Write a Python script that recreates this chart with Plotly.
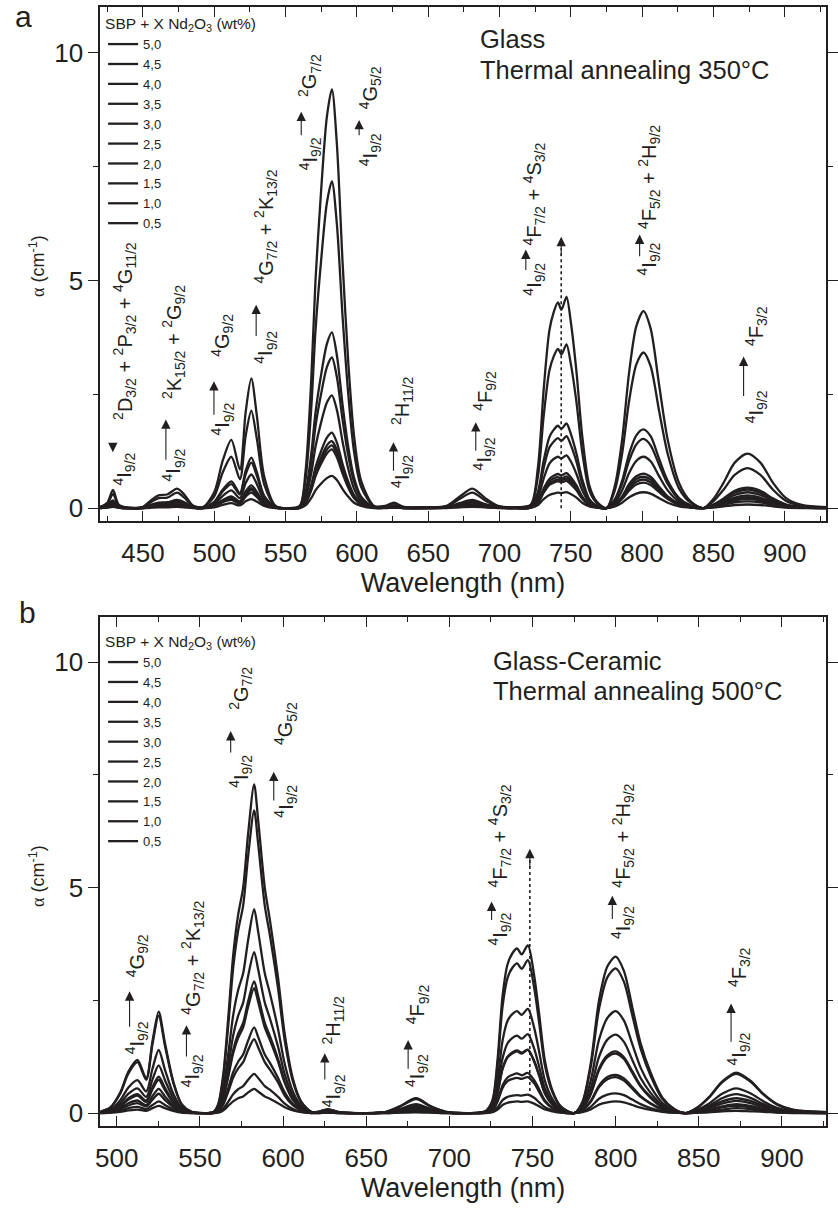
import plotly.graph_objects as go

W, H = 838, 1209
INK = "#231f20"
FONT = "Liberation Sans, Arial, sans-serif"

# ---------------- Panel (a): Glass, thermal annealing 350 C ----------------
wl_glass = [420, 425, 429, 433, 440, 450, 456, 461, 467, 474, 479, 485, 492,
            500, 506, 512, 518, 522, 526, 530, 535, 543, 552,
            560, 564, 568, 571, 575, 579, 582.5, 586, 590, 594, 598, 603, 612,
            620, 626, 633, 650,
            663, 672, 681, 690, 699, 712,
            722, 727, 731, 735, 738, 741, 743.5, 747, 750, 754, 758, 763, 768, 775,
            781, 786, 791, 796, 801, 806, 812, 818, 826, 834, 843,
            850, 857, 865, 874, 883, 892, 901, 912, 929]

glass_50 = [0.03, 0.12, 0.40, 0.08, 0.01, 0.03, 0.18, 0.28, 0.30, 0.43, 0.30, 0.06, 0.02,
            0.35, 1.05, 1.50, 0.85, 2.10, 2.85, 2.00, 0.70, 0.05, 0.00,
            0.05, 0.80, 2.80, 5.00, 7.00, 8.60, 9.20, 8.00, 5.40, 3.20, 1.60, 0.60, 0.05,
            0.05, 0.12, 0.03, 0.02,
            0.05, 0.25, 0.43, 0.22, 0.05, 0.02,
            0.08, 0.90, 2.60, 3.90, 4.30, 4.52, 4.36, 4.64, 4.10, 3.00, 1.60, 0.50, 0.15, 0.00,
            0.50, 1.50, 3.00, 4.00, 4.33, 3.95, 2.70, 1.50, 0.55, 0.15, 0.00,
            0.20, 0.55, 1.00, 1.20, 1.00, 0.55, 0.22, 0.07, 0.02]
glass_45 = [0.02, 0.09, 0.31, 0.06, 0.01, 0.02, 0.14, 0.22, 0.23, 0.34, 0.23, 0.05, 0.02,
            0.26, 0.79, 1.13, 0.64, 1.58, 2.14, 1.50, 0.53, 0.04, 0.00,
            0.04, 0.62, 2.18, 3.90, 5.46, 6.71, 7.18, 6.24, 4.21, 2.50, 1.25, 0.47, 0.04,
            0.04, 0.10, 0.02, 0.02,
            0.04, 0.20, 0.34, 0.17, 0.04, 0.02,
            0.06, 0.70, 2.02, 3.02, 3.33, 3.50, 3.38, 3.60, 3.18, 2.33, 1.24, 0.39, 0.12, 0.00,
            0.40, 1.19, 2.37, 3.16, 3.42, 3.12, 2.13, 1.19, 0.43, 0.12, 0.00,
            0.15, 0.40, 0.73, 0.88, 0.73, 0.40, 0.16, 0.05, 0.01]
glass_40 = [0.01, 0.05, 0.17, 0.03, 0.00, 0.01, 0.08, 0.12, 0.13, 0.18, 0.13, 0.03, 0.01,
            0.14, 0.41, 0.59, 0.33, 0.82, 1.11, 0.78, 0.27, 0.02, 0.00,
            0.02, 0.34, 1.18, 2.10, 2.94, 3.61, 3.86, 3.36, 2.27, 1.34, 0.67, 0.25, 0.02,
            0.02, 0.05, 0.01, 0.01,
            0.02, 0.11, 0.18, 0.09, 0.02, 0.01,
            0.03, 0.36, 1.04, 1.56, 1.72, 1.81, 1.74, 1.86, 1.64, 1.20, 0.64, 0.20, 0.06, 0.00,
            0.20, 0.60, 1.20, 1.60, 1.73, 1.58, 1.08, 0.60, 0.22, 0.06, 0.00,
            0.08, 0.21, 0.38, 0.45, 0.38, 0.21, 0.08, 0.03, 0.01]
glass_35 = [0.01, 0.04, 0.14, 0.03, 0.00, 0.01, 0.06, 0.10, 0.11, 0.15, 0.11, 0.02, 0.01,
            0.12, 0.37, 0.53, 0.30, 0.74, 1.00, 0.70, 0.25, 0.02, 0.00,
            0.02, 0.29, 1.01, 1.80, 2.52, 3.10, 3.31, 2.88, 1.94, 1.15, 0.58, 0.22, 0.02,
            0.02, 0.04, 0.01, 0.01,
            0.02, 0.09, 0.15, 0.08, 0.02, 0.01,
            0.03, 0.31, 0.88, 1.33, 1.46, 1.54, 1.48, 1.58, 1.39, 1.02, 0.54, 0.17, 0.05, 0.00,
            0.18, 0.53, 1.05, 1.40, 1.52, 1.38, 0.95, 0.53, 0.19, 0.05, 0.00,
            0.07, 0.19, 0.34, 0.41, 0.34, 0.19, 0.07, 0.02, 0.01]
glass_30 = [0.01, 0.03, 0.11, 0.02, 0.00, 0.01, 0.05, 0.08, 0.08, 0.12, 0.08, 0.02, 0.01,
            0.09, 0.27, 0.39, 0.22, 0.55, 0.74, 0.52, 0.18, 0.01, 0.00,
            0.01, 0.22, 0.76, 1.35, 1.89, 2.32, 2.48, 2.16, 1.46, 0.86, 0.43, 0.16, 0.01,
            0.01, 0.03, 0.01, 0.01,
            0.01, 0.07, 0.12, 0.06, 0.01, 0.01,
            0.02, 0.23, 0.65, 0.98, 1.08, 1.13, 1.09, 1.16, 1.03, 0.75, 0.40, 0.13, 0.04, 0.00,
            0.13, 0.39, 0.78, 1.04, 1.13, 1.03, 0.70, 0.39, 0.14, 0.04, 0.00,
            0.06, 0.16, 0.29, 0.35, 0.29, 0.16, 0.06, 0.02, 0.01]
glass_25 = [0.01, 0.02, 0.07, 0.01, 0.00, 0.01, 0.03, 0.05, 0.05, 0.08, 0.05, 0.01, 0.00,
            0.06, 0.18, 0.26, 0.15, 0.37, 0.50, 0.35, 0.12, 0.01, 0.00,
            0.01, 0.14, 0.50, 0.90, 1.26, 1.55, 1.66, 1.44, 0.97, 0.58, 0.29, 0.11, 0.01,
            0.01, 0.02, 0.01, 0.00,
            0.01, 0.05, 0.08, 0.04, 0.01, 0.00,
            0.01, 0.15, 0.43, 0.64, 0.71, 0.75, 0.72, 0.77, 0.68, 0.50, 0.26, 0.08, 0.02, 0.00,
            0.09, 0.26, 0.53, 0.70, 0.76, 0.69, 0.47, 0.26, 0.10, 0.03, 0.00,
            0.05, 0.13, 0.23, 0.28, 0.23, 0.13, 0.05, 0.02, 0.00]
glass_20 = [0.00, 0.02, 0.06, 0.01, 0.00, 0.00, 0.03, 0.04, 0.05, 0.07, 0.05, 0.01, 0.00,
            0.05, 0.16, 0.23, 0.13, 0.33, 0.44, 0.31, 0.11, 0.01, 0.00,
            0.01, 0.13, 0.45, 0.80, 1.12, 1.38, 1.47, 1.28, 0.86, 0.51, 0.26, 0.10, 0.01,
            0.01, 0.02, 0.00, 0.00,
            0.01, 0.04, 0.07, 0.04, 0.01, 0.00,
            0.01, 0.14, 0.39, 0.59, 0.65, 0.68, 0.65, 0.70, 0.62, 0.45, 0.24, 0.08, 0.02, 0.00,
            0.08, 0.24, 0.48, 0.64, 0.69, 0.63, 0.43, 0.24, 0.09, 0.02, 0.00,
            0.04, 0.11, 0.20, 0.24, 0.20, 0.11, 0.04, 0.01, 0.00]
glass_15 = [0.00, 0.02, 0.06, 0.01, 0.00, 0.00, 0.03, 0.04, 0.05, 0.06, 0.05, 0.01, 0.00,
            0.05, 0.15, 0.21, 0.12, 0.29, 0.40, 0.28, 0.10, 0.01, 0.00,
            0.01, 0.12, 0.42, 0.75, 1.05, 1.29, 1.38, 1.20, 0.81, 0.48, 0.24, 0.09, 0.01,
            0.01, 0.02, 0.00, 0.00,
            0.01, 0.04, 0.06, 0.03, 0.01, 0.00,
            0.01, 0.13, 0.36, 0.55, 0.60, 0.63, 0.61, 0.65, 0.57, 0.42, 0.22, 0.07, 0.02, 0.00,
            0.07, 0.22, 0.44, 0.58, 0.63, 0.57, 0.39, 0.22, 0.08, 0.02, 0.00,
            0.03, 0.09, 0.17, 0.20, 0.17, 0.09, 0.04, 0.01, 0.00]
glass_10 = [0.00, 0.02, 0.06, 0.01, 0.00, 0.00, 0.03, 0.04, 0.04, 0.06, 0.04, 0.01, 0.00,
            0.04, 0.13, 0.18, 0.10, 0.25, 0.34, 0.24, 0.08, 0.01, 0.00,
            0.01, 0.11, 0.39, 0.70, 0.98, 1.20, 1.29, 1.12, 0.76, 0.45, 0.22, 0.08, 0.01,
            0.01, 0.02, 0.00, 0.00,
            0.01, 0.04, 0.06, 0.03, 0.01, 0.00,
            0.01, 0.12, 0.34, 0.51, 0.56, 0.59, 0.57, 0.60, 0.53, 0.39, 0.21, 0.07, 0.02, 0.00,
            0.07, 0.20, 0.39, 0.52, 0.56, 0.51, 0.35, 0.20, 0.07, 0.02, 0.00,
            0.03, 0.07, 0.13, 0.15, 0.13, 0.07, 0.03, 0.01, 0.00]
glass_05 = [0.00, 0.01, 0.03, 0.01, 0.00, 0.00, 0.01, 0.02, 0.02, 0.03, 0.02, 0.00, 0.00,
            0.02, 0.07, 0.11, 0.06, 0.15, 0.20, 0.14, 0.05, 0.00, 0.00,
            0.00, 0.06, 0.22, 0.39, 0.54, 0.66, 0.71, 0.62, 0.42, 0.25, 0.12, 0.05, 0.00,
            0.00, 0.01, 0.00, 0.00,
            0.00, 0.02, 0.03, 0.02, 0.00, 0.00,
            0.01, 0.07, 0.20, 0.29, 0.32, 0.34, 0.33, 0.35, 0.31, 0.23, 0.12, 0.04, 0.01, 0.00,
            0.04, 0.12, 0.24, 0.32, 0.35, 0.32, 0.22, 0.12, 0.04, 0.01, 0.00,
            0.01, 0.04, 0.07, 0.08, 0.07, 0.04, 0.01, 0.00, 0.00]

# ---------------- Panel (b): Glass-ceramic, thermal annealing 500 C ----------------
wl_gc = [490, 496, 502, 507, 512.4, 517.7, 521.5, 525.2, 529, 534, 539, 545, 553,
         558, 561, 564, 567, 570, 573, 576, 579, 582.6, 585, 589, 592, 597, 601, 606, 611, 617,
         621, 627, 634, 650,
         662, 670, 680, 689, 698, 712,
         722, 726, 729, 732, 735, 738, 740.7, 743.5, 747.2, 751, 754, 757.5, 762, 767, 775,
         780, 785, 790, 795, 800, 805, 810, 815, 821, 828, 835, 842,
         849, 856, 864, 872.5, 881, 889, 897, 907, 927]

gc_50 = [0.03, 0.12, 0.45, 0.92, 1.18, 0.77, 1.60, 2.25, 1.55, 0.70, 0.20, 0.03, 0.00,
         0.02, 0.20, 0.85, 2.10, 3.50, 4.40, 5.00, 6.20, 7.29, 6.50, 5.00, 4.30, 3.00, 1.75, 0.75, 0.25, 0.03,
         0.03, 0.09, 0.02, 0.00,
         0.03, 0.15, 0.33, 0.15, 0.03, 0.00,
         0.05, 0.30, 1.20, 2.60, 3.30, 3.55, 3.65, 3.52, 3.72, 3.05, 2.20, 1.15, 0.50, 0.15, 0.00,
         0.25, 1.10, 2.50, 3.25, 3.47, 3.15, 2.35, 1.55, 0.90, 0.35, 0.10, 0.00,
         0.12, 0.35, 0.70, 0.90, 0.72, 0.42, 0.20, 0.07, 0.02]
gc_45 = [0.03, 0.12, 0.43, 0.88, 1.13, 0.74, 1.54, 2.16, 1.49, 0.67, 0.19, 0.03, 0.00,
         0.02, 0.18, 0.78, 1.93, 3.22, 4.05, 4.60, 5.70, 6.71, 5.98, 4.60, 3.96, 2.76, 1.61, 0.69, 0.23, 0.03,
         0.03, 0.08, 0.02, 0.00,
         0.03, 0.14, 0.31, 0.14, 0.03, 0.00,
         0.05, 0.27, 1.09, 2.37, 3.00, 3.23, 3.32, 3.20, 3.39, 2.78, 2.00, 1.05, 0.46, 0.14, 0.00,
         0.23, 1.02, 2.31, 3.01, 3.21, 2.91, 2.17, 1.43, 0.83, 0.32, 0.09, 0.00,
         0.12, 0.34, 0.68, 0.87, 0.70, 0.41, 0.19, 0.07, 0.02]
gc_40 = [0.02, 0.07, 0.28, 0.57, 0.73, 0.48, 0.99, 1.40, 0.96, 0.43, 0.12, 0.02, 0.00,
         0.01, 0.12, 0.53, 1.30, 2.17, 2.73, 3.10, 3.84, 4.52, 4.03, 3.10, 2.67, 1.86, 1.09, 0.47, 0.16, 0.02,
         0.02, 0.06, 0.01, 0.00,
         0.02, 0.09, 0.20, 0.09, 0.02, 0.00,
         0.03, 0.19, 0.74, 1.61, 2.05, 2.20, 2.26, 2.18, 2.31, 1.89, 1.36, 0.71, 0.31, 0.09, 0.00,
         0.16, 0.72, 1.63, 2.11, 2.26, 2.05, 1.53, 1.01, 0.59, 0.23, 0.07, 0.00,
         0.07, 0.21, 0.43, 0.55, 0.44, 0.26, 0.12, 0.04, 0.01]
gc_35 = [0.01, 0.06, 0.21, 0.43, 0.55, 0.36, 0.75, 1.06, 0.73, 0.33, 0.09, 0.01, 0.00,
         0.01, 0.10, 0.42, 1.03, 1.72, 2.16, 2.45, 3.04, 3.57, 3.19, 2.45, 2.11, 1.47, 0.86, 0.37, 0.12, 0.01,
         0.01, 0.04, 0.01, 0.00,
         0.01, 0.07, 0.16, 0.07, 0.01, 0.00,
         0.02, 0.14, 0.56, 1.22, 1.55, 1.67, 1.72, 1.65, 1.75, 1.43, 1.03, 0.54, 0.24, 0.07, 0.00,
         0.13, 0.55, 1.25, 1.63, 1.74, 1.58, 1.18, 0.78, 0.45, 0.18, 0.05, 0.00,
         0.06, 0.16, 0.33, 0.42, 0.34, 0.20, 0.09, 0.03, 0.01]
gc_30 = [0.01, 0.04, 0.16, 0.33, 0.42, 0.28, 0.58, 0.81, 0.56, 0.25, 0.07, 0.01, 0.00,
         0.01, 0.08, 0.34, 0.84, 1.40, 1.76, 2.00, 2.48, 2.92, 2.60, 2.00, 1.72, 1.20, 0.70, 0.30, 0.10, 0.01,
         0.01, 0.04, 0.01, 0.00,
         0.01, 0.06, 0.13, 0.06, 0.01, 0.00,
         0.02, 0.11, 0.46, 0.99, 1.25, 1.35, 1.39, 1.34, 1.41, 1.16, 0.84, 0.44, 0.19, 0.06, 0.00,
         0.10, 0.43, 0.99, 1.28, 1.37, 1.24, 0.93, 0.61, 0.36, 0.14, 0.04, 0.00,
         0.04, 0.13, 0.26, 0.33, 0.27, 0.16, 0.07, 0.03, 0.01]
gc_25 = [0.01, 0.04, 0.15, 0.30, 0.39, 0.25, 0.53, 0.74, 0.51, 0.23, 0.07, 0.01, 0.00,
         0.01, 0.08, 0.32, 0.80, 1.33, 1.67, 1.90, 2.36, 2.77, 2.47, 1.90, 1.63, 1.14, 0.67, 0.29, 0.10, 0.01,
         0.01, 0.03, 0.01, 0.00,
         0.01, 0.06, 0.12, 0.06, 0.01, 0.00,
         0.02, 0.11, 0.45, 0.98, 1.24, 1.33, 1.37, 1.32, 1.40, 1.14, 0.83, 0.43, 0.19, 0.06, 0.00,
         0.10, 0.42, 0.95, 1.24, 1.32, 1.20, 0.89, 0.59, 0.34, 0.13, 0.04, 0.00,
         0.04, 0.11, 0.21, 0.27, 0.22, 0.13, 0.06, 0.02, 0.01]
gc_20 = [0.01, 0.03, 0.11, 0.22, 0.28, 0.18, 0.38, 0.54, 0.37, 0.17, 0.05, 0.01, 0.00,
         0.01, 0.05, 0.22, 0.55, 0.91, 1.14, 1.30, 1.61, 1.90, 1.69, 1.30, 1.12, 0.78, 0.46, 0.20, 0.07, 0.01,
         0.01, 0.02, 0.01, 0.00,
         0.01, 0.04, 0.08, 0.04, 0.01, 0.00,
         0.01, 0.07, 0.29, 0.62, 0.79, 0.85, 0.88, 0.84, 0.89, 0.73, 0.53, 0.28, 0.12, 0.04, 0.00,
         0.06, 0.27, 0.61, 0.80, 0.85, 0.77, 0.58, 0.38, 0.22, 0.09, 0.02, 0.00,
         0.03, 0.08, 0.15, 0.20, 0.16, 0.09, 0.04, 0.02, 0.00]
gc_15 = [0.01, 0.02, 0.09, 0.17, 0.22, 0.15, 0.30, 0.43, 0.29, 0.13, 0.04, 0.01, 0.00,
         0.00, 0.05, 0.19, 0.47, 0.79, 0.99, 1.13, 1.40, 1.64, 1.46, 1.13, 0.97, 0.68, 0.39, 0.17, 0.06, 0.01,
         0.01, 0.02, 0.00, 0.00,
         0.01, 0.03, 0.07, 0.03, 0.01, 0.00,
         0.01, 0.06, 0.26, 0.56, 0.71, 0.76, 0.78, 0.76, 0.80, 0.66, 0.47, 0.25, 0.11, 0.03, 0.00,
         0.06, 0.25, 0.58, 0.75, 0.80, 0.72, 0.54, 0.36, 0.21, 0.08, 0.02, 0.00,
         0.02, 0.06, 0.13, 0.16, 0.13, 0.08, 0.04, 0.01, 0.00]
gc_10 = [0.00, 0.01, 0.05, 0.11, 0.14, 0.09, 0.18, 0.26, 0.18, 0.08, 0.02, 0.00, 0.00,
         0.00, 0.02, 0.10, 0.25, 0.42, 0.53, 0.60, 0.74, 0.87, 0.78, 0.60, 0.52, 0.36, 0.21, 0.09, 0.03, 0.00,
         0.00, 0.01, 0.00, 0.00,
         0.00, 0.02, 0.04, 0.02, 0.00, 0.00,
         0.01, 0.03, 0.13, 0.29, 0.36, 0.39, 0.40, 0.39, 0.41, 0.34, 0.24, 0.13, 0.06, 0.02, 0.00,
         0.03, 0.14, 0.32, 0.41, 0.44, 0.40, 0.30, 0.20, 0.11, 0.04, 0.01, 0.00,
         0.01, 0.04, 0.08, 0.11, 0.09, 0.05, 0.02, 0.01, 0.00]
gc_05 = [0.00, 0.01, 0.03, 0.06, 0.08, 0.05, 0.11, 0.16, 0.11, 0.05, 0.01, 0.00, 0.00,
         0.00, 0.01, 0.06, 0.16, 0.26, 0.33, 0.37, 0.46, 0.54, 0.48, 0.37, 0.32, 0.22, 0.13, 0.06, 0.02, 0.00,
         0.00, 0.01, 0.00, 0.00,
         0.00, 0.01, 0.02, 0.01, 0.00, 0.00,
         0.00, 0.02, 0.08, 0.18, 0.23, 0.25, 0.26, 0.25, 0.26, 0.21, 0.15, 0.08, 0.04, 0.01, 0.00,
         0.02, 0.08, 0.19, 0.24, 0.26, 0.24, 0.18, 0.12, 0.07, 0.03, 0.01, 0.00,
         0.01, 0.02, 0.04, 0.05, 0.04, 0.03, 0.01, 0.00, 0.00]

conc_labels = ["5,0", "4,5", "4,0", "3,5", "3,0", "2,5", "2,0", "1,5", "1,0", "0,5"]
glass_series = [glass_50, glass_45, glass_40, glass_35, glass_30,
                glass_25, glass_20, glass_15, glass_10, glass_05]
gc_series = [gc_50, gc_45, gc_40, gc_35, gc_30, gc_25, gc_20, gc_15, gc_10, gc_05]

for s in glass_series:
    assert len(s) == len(wl_glass), len(s)
for s in gc_series:
    assert len(s) == len(wl_gc), len(s)

fig = go.Figure()
line_style = dict(color=INK, width=2.3, shape="spline", smoothing=0.8)
for name, ys in zip(conc_labels, glass_series):
    fig.add_trace(go.Scatter(x=wl_glass, y=ys, mode="lines", name=name, line=line_style,
                             xaxis="x", yaxis="y", legend="legend", hoverinfo="skip"))
for name, ys in zip(conc_labels, gc_series):
    fig.add_trace(go.Scatter(x=wl_gc, y=ys, mode="lines", name=name, line=line_style,
                             xaxis="x2", yaxis="y2", legend="legend2", hoverinfo="skip"))

# ---------------- Axes ----------------
def xaxis(rng, anchor):
    return dict(domain=[97 / W, 837 / W], range=rng, anchor=anchor,
                tick0=0, dtick=50, ticks="inside", ticklen=10, tickwidth=1.4, tickcolor=INK,
                minor=dict(dtick=25, ticks="inside", ticklen=5, tickwidth=1.4, tickcolor=INK),
                showline=True, linewidth=1.6, linecolor=INK, mirror="ticks",
                showgrid=False, zeroline=False,
                tickfont=dict(size=26, color=INK, family=FONT), ticklabelstandoff=8,
                title=dict(text="Wavelength (nm)", font=dict(size=27, color=INK, family=FONT),
                           standoff=5))

def yaxis(dom, rng, anchor):
    return dict(domain=dom, range=rng, anchor=anchor,
                tick0=0, dtick=5, ticks="outside", ticklen=10, tickwidth=1.4, tickcolor=INK,
                minor=dict(dtick=2.5, ticks="outside", ticklen=5, tickwidth=1.4, tickcolor=INK),
                showline=True, linewidth=1.6, linecolor=INK, mirror="ticks",
                showgrid=False, zeroline=False,
                tickfont=dict(size=26, color=INK, family=FONT))

# ---------------- Transition labels ----------------
LOW = "<sup>4</sup>I<sub>9/2</sub>"
# (x column centre nm, lower-text bottom, upper text, upper-text bottom, arrow x, arrow tail, arrow head)
labels_glass = [
    (437.2, 0.48, "<sup>2</sup>D<sub>3/2</sub> + <sup>2</sup>P<sub>3/2</sub> + <sup>4</sup>G<sub>11/2</sub>", 1.91, 428.9, 1.45, 1.23),
    (471.6, 0.57, "<sup>2</sup>K<sub>15/2</sub> + <sup>2</sup>G<sub>9/2</sub>", 2.37, 466.1, 1.03, 1.95),
    (506.0, 1.58, "<sup>4</sup>G<sub>9/2</sub>", 3.31, 499.8, 2.02, 2.79),
    (536.2, 3.16, "<sup>4</sup>G<sub>7/2</sub> + <sup>2</sup>K<sub>13/2</sub>", 4.91, 529.4, 3.75, 4.47),
    (567.2, 7.39, "<sup>2</sup>G<sub>7/2</sub>", 9.0, 561.0, 8.16, 8.71),
    (609.2, 7.50, "<sup>4</sup>G<sub>5/2</sub>", 8.75, 601.6, 8.16, 8.53),
    (631.9, 0.42, "<sup>2</sup>H<sub>11/2</sub>", 1.80, 625.7, 0.79, 1.45),
    (689.6, 0.81, "<sup>4</sup>F<sub>9/2</sub>", 2.11, 683.4, 1.23, 1.89),
    (724.7, 4.65, "<sup>4</sup>F<sub>7/2</sub> + <sup>4</sup>S<sub>3/2</sub>", 5.75, 718.5, 5.20, 5.68),
    (805.2, 5.09, "<sup>4</sup>F<sub>5/2</sub> + <sup>2</sup>H<sub>9/2</sub>", 6.12, 798.3, 5.50, 6.01),
    (880.2, 1.84, "<sup>4</sup>F<sub>3/2</sub>", 3.55, 871.2, 2.43, 3.33),
]
labels_gc = [
    (574.4, 7.19, "<sup>2</sup>G<sub>7/2</sub>", 8.92, 568.5, 7.96, 8.47),
    (601.5, 6.53, "<sup>4</sup>G<sub>5/2</sub>", 8.14, 594.4, 6.90, 7.57),
    (512.4, 1.28, "<sup>4</sup>G<sub>9/2</sub>", 2.99, 507.7, 1.88, 2.70),
    (545.5, 0.55, "<sup>4</sup>G<sub>7/2</sub> + <sup>2</sup>K<sub>13/2</sub>", 2.17, 541.9, 1.22, 1.95),
    (630.4, 0.11, "<sup>2</sup>H<sub>11/2</sub>", 1.50, 625.1, 0.71, 1.33),
    (680.6, 0.55, "<sup>4</sup>F<sub>9/2</sub>", 1.95, 675.2, 0.95, 1.62),
    (730.1, 3.69, "<sup>4</sup>F<sub>7/2</sub> + <sup>4</sup>S<sub>3/2</sub>", 4.98, 725.4, 4.25, 4.69),
    (804.5, 3.83, "<sup>4</sup>F<sub>5/2</sub> + <sup>2</sup>H<sub>9/2</sub>", 4.98, 798.0, 4.27, 4.82),
    (874.1, 1.04, "<sup>4</sup>F<sub>3/2</sub>", 2.77, 869.4, 1.55, 2.43),
]
# dotted marker lines: (x nm, bottom, top)
dotted_glass = (743.3, 0.0, 5.96)
dotted_gc = (748.4, 0.49, 5.86)

annotations = []
shapes = []
LABEL_FONT = dict(size=20, color=INK, family=FONT)

def add_labels(items, xr, yr):
    for xc, ylow, up, yup, xa, ytail, yhead in items:
        annotations.append(dict(xref=xr, yref=yr, x=xc, y=ylow, text=LOW, textangle=-90,
                                xanchor="center", yanchor="bottom", showarrow=False,
                                font=LABEL_FONT, borderpad=0))
        annotations.append(dict(xref=xr, yref=yr, x=xc, y=yup, text=up, textangle=-90,
                                xanchor="center", yanchor="bottom", showarrow=False,
                                font=LABEL_FONT, borderpad=0))
        annotations.append(dict(xref=xr, yref=yr, x=xa, y=yhead, axref=xr, ayref=yr,
                                ax=xa, ay=ytail, text="", showarrow=True, arrowhead=2,
                                arrowsize=1.7, arrowwidth=1.1, arrowcolor=INK,
                                standoff=0, startstandoff=0))

def add_dotted(d, xr, yr):
    x, y0, y1 = d
    shapes.append(dict(type="line", xref=xr, yref=yr, x0=x, x1=x, y0=y0, y1=y1 - 0.25,
                       line=dict(color=INK, width=1.6, dash="dot")))
    annotations.append(dict(xref=xr, yref=yr, x=x, y=y1, axref=xr, ayref=yr,
                            ax=x, ay=y1 - 0.45, text="", showarrow=True, arrowhead=2,
                            arrowsize=1.7, arrowwidth=1.1, arrowcolor=INK,
                            standoff=0, startstandoff=0))

add_labels(labels_glass, "x", "y")
add_labels(labels_gc, "x2", "y2")
add_dotted(dotted_glass, "x", "y")
add_dotted(dotted_gc, "x2", "y2")

TXT = dict(size=25.5, color=INK, family=FONT)
annotations += [
    dict(xref="x", yref="y", x=684.8, y=10.31, text="Glass", xanchor="left", yanchor="middle",
         showarrow=False, font=TXT),
    dict(xref="x", yref="y", x=684.8, y=9.63, text="Thermal annealing 350°C", xanchor="left",
         yanchor="middle", showarrow=False, font=TXT),
    dict(xref="x2", yref="y2", x=724.8, y=10.02, text="Glass-Ceramic", xanchor="left",
         yanchor="middle", showarrow=False, font=TXT),
    dict(xref="x2", yref="y2", x=724.8, y=9.36, text="Thermal annealing 500°C", xanchor="left",
         yanchor="middle", showarrow=False, font=TXT),
    dict(xref="paper", yref="paper", x=19 / W, y=1 - 17 / H, text="a", xanchor="center",
         yanchor="middle", showarrow=False, font=dict(size=30, color=INK, family=FONT)),
    dict(xref="paper", yref="paper", x=23 / W, y=1 - 614 / H, text="b", xanchor="center",
         yanchor="middle", showarrow=False, font=dict(size=30, color=INK, family=FONT)),
]
YTITLE = "<span style=\"font-family:Liberation Serif\">α</span> (cm<sup>-1</sup>)"
for yc in (266, 877):
    annotations.append(dict(xref="paper", yref="paper", x=33 / W, y=1 - yc / H, text=YTITLE,
                            textangle=-90, xanchor="center", yanchor="middle", showarrow=False,
                            font=dict(size=18, color=INK, family=FONT)))

LEG_TITLE = "SBP + X Nd<sub>2</sub>O<sub>3</sub> (wt%)"
def legend(ytop):
    return dict(x=100 / W, y=1 - ytop / H, xanchor="left", yanchor="top",
                bgcolor="rgba(0,0,0,0)", borderwidth=0, tracegroupgap=0,
                font=dict(size=13, color=INK, family=FONT),
                title=dict(text=LEG_TITLE, font=dict(size=15.5, color=INK, family=FONT)))

fig.update_layout(
    width=W, height=H, margin=dict(l=0, r=0, t=0, b=0),
    paper_bgcolor="white", plot_bgcolor="white",
    font=dict(family=FONT, color=INK),
    xaxis=xaxis([420, 929], "y"),
    yaxis=yaxis([(H - 522) / H, (H - 7) / H], [-0.285, 11.01], "x"),
    xaxis2=xaxis([490, 926.5], "y2"),
    yaxis2=yaxis([(H - 1128) / H, (H - 618) / H], [-0.288, 11.0], "x2"),
    legend=legend(9),
    legend2=legend(628),
    annotations=annotations,
    shapes=shapes,
    showlegend=True,
)

fig.write_html("out.html", config={"displayModeBar": False})
